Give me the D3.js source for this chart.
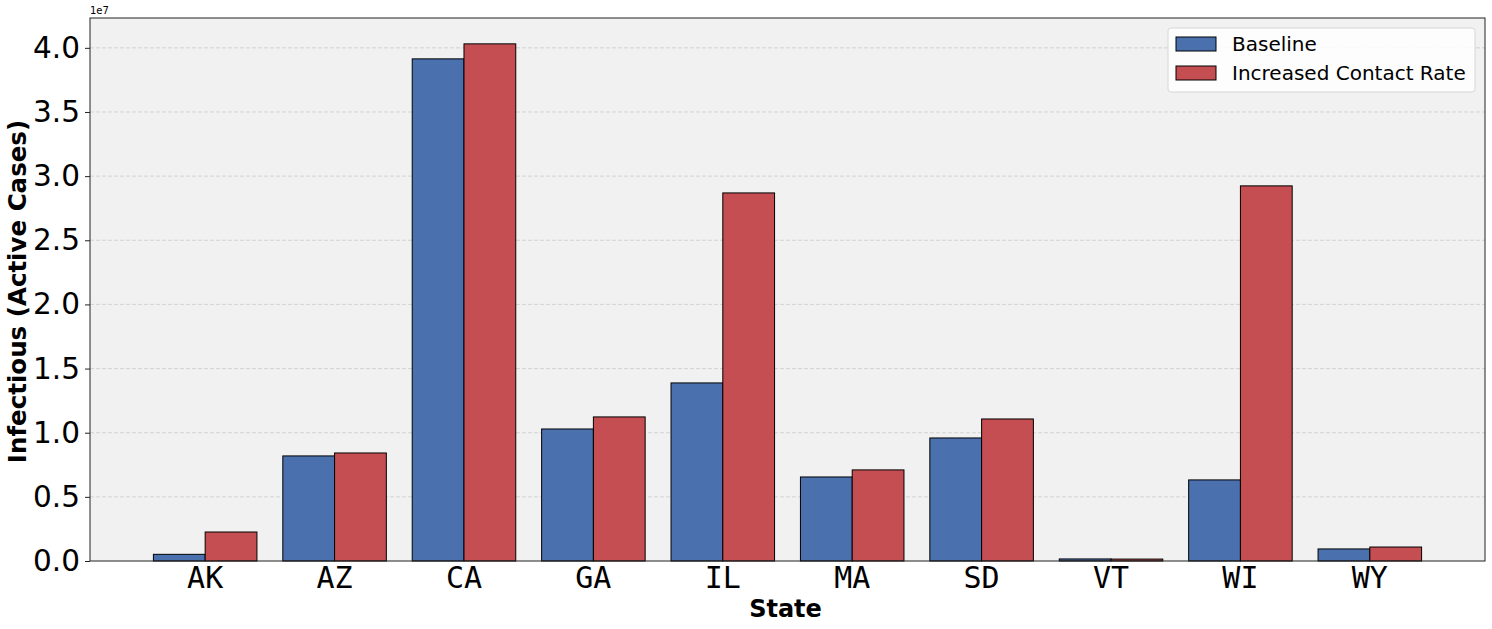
<!DOCTYPE html>
<html>
<head>
<meta charset="utf-8">
<script src="https://cdn.jsdelivr.net/npm/d3@7"></script>
<style>
  body { margin: 0; background: #fff; }
  svg { display: block; }
</style>
</head>
<body>
<svg id="chart" width="1492" height="629"></svg>
<script>
var states = ["AK", "AZ", "CA", "GA", "IL", "MA", "SD", "VT", "WI", "WY"];
var baseline = [0.52e6, 8.19e6, 39.14e6, 10.29e6, 13.88e6, 6.55e6, 9.59e6, 0.16e6, 6.32e6, 0.94e6];
var increased = [2.26e6, 8.42e6, 40.31e6, 11.23e6, 28.69e6, 7.10e6, 11.07e6, 0.15e6, 29.24e6, 1.09e6];
var yTicks = [0, 0.5e7, 1.0e7, 1.5e7, 2.0e7, 2.5e7, 3.0e7, 3.5e7, 4.0e7];
var seriesNames = ["Baseline", "Increased Contact Rate"];
var seriesColors = ["#4a71ae", "#c44e52"];

var svg = d3.select("#chart"),
    margin = {top: 18, right: 7, bottom: 68, left: 90},
    width = +svg.attr("width") - margin.left - margin.right,
    height = +svg.attr("height") - margin.top - margin.bottom;

var g = svg.append("g")
    .attr("transform", "translate(" + margin.left + "," + margin.top + ")");

// bar positions like matplotlib: index -0.2/+0.2, width 0.4, 5% margins
var x = d3.scaleLinear()
    .domain([-0.89, states.length - 1 + 0.89])
    .range([0, width]);

var yMax = d3.max(increased.concat(baseline)) * 1.05;
var y = d3.scaleLinear()
    .domain([0, yMax])
    .range([height, 0]);

g.append("rect")
    .attr("width", width)
    .attr("height", height)
    .attr("fill", "#f1f1f1");

// grid
g.selectAll(".grid")
  .data(yTicks.slice(1))
  .enter().append("line")
    .attr("x1", 0)
    .attr("x2", width)
    .attr("y1", function(d) { return y(d); })
    .attr("y2", function(d) { return y(d); })
    .attr("stroke", "#cccccc")
    .attr("stroke-width", 0.8)
    .attr("stroke-dasharray", "4,2");

var bw = x(0.4) - x(0);
var series = [baseline, increased];

series.forEach(function(vals, si) {
  g.selectAll(".bar" + si)
    .data(vals)
    .enter().append("rect")
      .attr("x", function(d, i) { return x(i + (si === 0 ? -0.4 : 0)); })
      .attr("y", function(d) { return y(d); })
      .attr("width", bw)
      .attr("height", function(d) { return height - y(d); })
      .attr("fill", seriesColors[si])
      .attr("stroke", "#000")
      .attr("stroke-width", 1);
});

// frame
g.append("rect")
    .attr("width", width)
    .attr("height", height)
    .attr("fill", "none")
    .attr("stroke", "#222")
    .attr("stroke-width", 1);

// y axis
var yAxis = g.append("g")
    .call(d3.axisLeft(y).tickValues(yTicks).tickSize(5).tickPadding(5)
      .tickFormat(function(d) { return (d / 1e7).toFixed(1); }));
yAxis.select(".domain").remove();
yAxis.selectAll("text")
    .attr("font-family", "DejaVu Sans")
    .attr("font-size", 29.5)
    .attr("fill", "#000");
yAxis.selectAll("line").attr("stroke", "#222");

// x axis labels
g.selectAll(".xlab")
  .data(states)
  .enter().append("text")
    .attr("x", function(d, i) { return x(i); })
    .attr("y", height + 27)
    .attr("text-anchor", "middle")
    .attr("font-family", "DejaVu Sans Mono")
    .attr("font-size", 30)
    .text(function(d) { return d; });

svg.append("text")
    .attr("x", margin.left)
    .attr("y", 14)
    .attr("font-family", "DejaVu Sans")
    .attr("font-size", 10)
    .text("1e7");

svg.append("text")
    .attr("x", margin.left + width / 2 - 2)
    .attr("y", 617)
    .attr("text-anchor", "middle")
    .attr("font-family", "DejaVu Sans")
    .attr("font-weight", "bold")
    .attr("font-size", 24)
    .text("State");

svg.append("text")
    .attr("transform", "translate(26," + (margin.top + height / 2 + 2) + ") rotate(-90)")
    .attr("text-anchor", "middle")
    .attr("font-family", "DejaVu Sans")
    .attr("font-weight", "bold")
    .attr("font-size", 24.5)
    .text("Infectious (Active Cases)");

// legend
var legend = svg.append("g").attr("transform", "translate(1168,28)");
legend.append("rect")
    .attr("width", 307)
    .attr("height", 64)
    .attr("rx", 3)
    .attr("fill", "#fff")
    .attr("fill-opacity", 0.85)
    .attr("stroke", "#d6d6d6");
seriesNames.forEach(function(name, i) {
  legend.append("rect")
      .attr("x", 8)
      .attr("y", 9 + i * 29)
      .attr("width", 40)
      .attr("height", 14)
      .attr("fill", seriesColors[i])
      .attr("stroke", "#000");
  legend.append("text")
      .attr("x", 64)
      .attr("y", 23 + i * 29)
      .attr("font-family", "DejaVu Sans")
      .attr("font-size", 20)
      .text(name);
});
</script>
</body>
</html>
